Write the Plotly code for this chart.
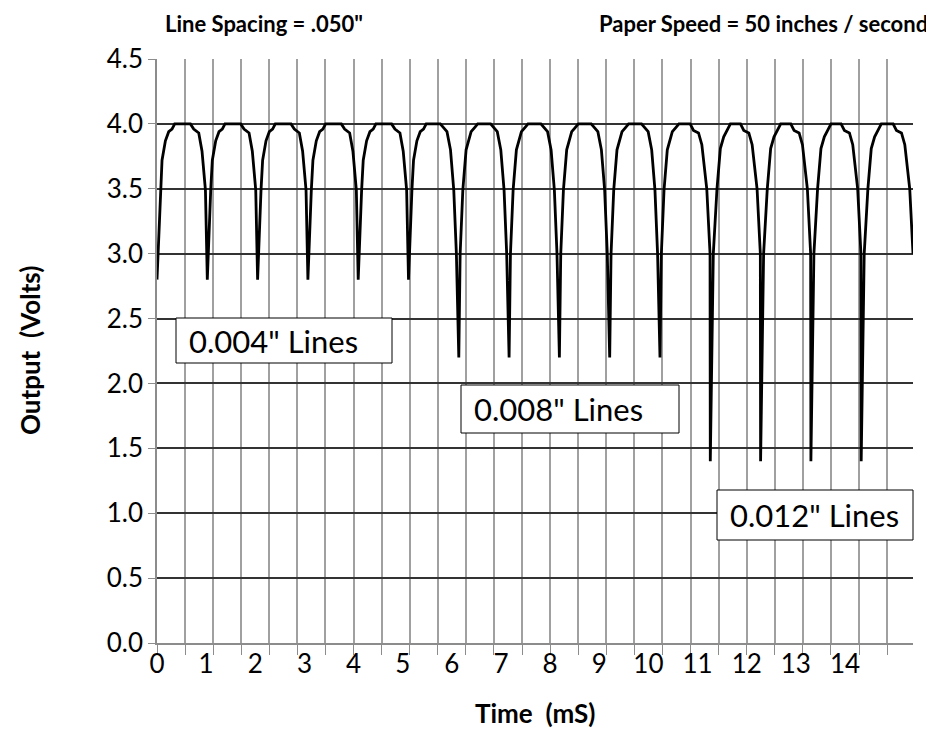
import plotly.graph_objects as go

# ---------------- data ----------------
# times (mS) of the dips and the voltage each dip reaches
dip_times = [0, 1, 2, 3, 4, 5, 6, 7, 8, 9, 10, 11, 12, 13, 14]
dip_volts = [2.8, 2.8, 2.8, 2.8, 2.8, 2.8,
             2.2, 2.2, 2.2, 2.2, 2.2,
             1.4, 1.4, 1.4, 1.4]
# the trace is cut at the right edge just before the next dip
end_dip_time = 15.035
end_dip_volts = 1.4

# rising edge after a dip: offset (mS) after dip, volts
rise_004_dt = [0.068, 0.10, 0.167, 0.233, 0.298, 0.352]
rise_004_v = [3.49, 3.72, 3.87, 3.94, 3.96, 4.0]
rise_008_dt = [0.027, 0.08, 0.145, 0.245, 0.31, 0.376]
rise_008_v = [3.0, 3.49, 3.8, 3.94, 3.97, 4.0]
rise_012_dt = [0.06, 0.133, 0.2, 0.267, 0.333, 0.4]
rise_012_v = [3.0, 3.5, 3.81, 3.9, 3.95, 4.0]

# falling edge before a dip: offset (mS) before dip, volts
fall_004_dt = [-0.336, -0.27, -0.17, -0.105, -0.037]
fall_004_v = [4.0, 3.96, 3.93, 3.79, 3.49]
fall_008_dt = [-0.368, -0.295, -0.235, -0.165, -0.1, -0.048]
fall_008_v = [4.0, 3.97, 3.94, 3.8, 3.49, 3.0]
fall_012_dt = [-0.4, -0.334, -0.234, -0.168, -0.07, -0.005]
fall_012_v = [4.0, 3.95, 3.93, 3.84, 3.5, 3.0]

# category labels of the time axis and where they sit (mS)
x_label_text = ["0", "1", "2", "3", "4", "5", "6", "7", "8", "9",
                "10", "11", "12", "13", "14"]
x_label_pos = [0.0, 0.977, 1.954, 2.931, 3.908, 4.885, 5.862, 6.839,
               7.816, 8.793, 9.77, 10.747, 11.724, 12.701, 13.678]

rise_profiles = {2.8: (rise_004_dt, rise_004_v),
                 2.2: (rise_008_dt, rise_008_v),
                 1.4: (rise_012_dt, rise_012_v)}
fall_profiles = {2.8: (fall_004_dt, fall_004_v),
                 2.2: (fall_008_dt, fall_008_v),
                 1.4: (fall_012_dt, fall_012_v)}

# ---------------- assemble the trace ----------------
t, v = [], []
n = len(dip_times)
for k in range(n):
    t.append(dip_times[k])
    v.append(dip_volts[k])
    rdt, rv = rise_profiles[dip_volts[k]]
    for a, b in zip(rdt, rv):
        t.append(dip_times[k] + a)
        v.append(b)
    if k + 1 < n:
        nt, nv = dip_times[k + 1], dip_volts[k + 1]
    else:
        nt, nv = end_dip_time, end_dip_volts
    fdt, fv = fall_profiles[nv]
    for a, b in zip(fdt, fv):
        t.append(nt + a)
        v.append(b)

FONT = "Lato"
W, H = 934, 751
OFF = 8  # page body margin
# plot area in reference-image pixels
PL, PR, PT, PB = 157, 913, 59, 643
ML = PL - OFF
MT = PT - OFF
PW, PH = PR - PL, PB - PT
MR = W - ML - PW
MB = H - MT - PH


def px(x):
    return (x - PL) / PW


def py(y):
    return (PB - y) / PH


fig = go.Figure()
fig.add_trace(go.Scatter(x=t, y=v, mode="lines",
                         line=dict(color="black", width=2.8),
                         hoverinfo="skip", showlegend=False))

fig.update_layout(
    width=W, height=H,
    margin=dict(l=ML, r=MR, t=MT, b=MB),
    paper_bgcolor="white", plot_bgcolor="white",
    font=dict(family=FONT, color="black"),
    xaxis=dict(
        range=[0, 15.03], tickmode="array",
        tickvals=x_label_pos, ticktext=x_label_text,
        showgrid=False, ticks="", zeroline=False,
        showline=True, linecolor="#8c8c8c", linewidth=1.5,
        tickfont=dict(size=26, family=FONT), ticklabelstandoff=-3,
        minor=dict(tick0=0, dtick=0.5583, showgrid=True,
                   gridcolor="#a0a0a0", gridwidth=1.5,
                   ticks="outside", ticklen=10,
                   tickcolor="#8c8c8c", tickwidth=1.4),
    ),
    yaxis=dict(
        range=[0, 4.5], tickmode="linear", tick0=0, dtick=0.5,
        tickformat=".1f", showgrid=True, gridcolor="#333333",
        gridwidth=1.5, ticks="outside", ticklen=7,
        tickcolor="#8c8c8c", tickwidth=1.4,
        showline=True, linecolor="#8c8c8c", linewidth=1.5,
        zeroline=True, zerolinecolor="#8c8c8c", zerolinewidth=1.5,
        tickfont=dict(size=26, family=FONT), ticklabelstandoff=0,
    ),
)

# label boxes (reference pixels)
boxes = [
    (176, 392, 318, 363, 187, "0.004\" Lines"),
    (461, 679, 385, 433, 472, "0.008\" Lines"),
    (717, 913, 490, 540, 728, "0.012\" Lines"),
]
for x0, x1, y0, y1, tx, txt in boxes:
    fig.add_shape(type="rect", xref="paper", yref="paper",
                  x0=px(x0), x1=px(x1), y0=py(y1), y1=py(y0),
                  line=dict(color="black", width=1), fillcolor="white",
                  layer="above")
    fig.add_annotation(xref="paper", yref="paper", x=px(tx),
                       y=py((y0 + y1) / 2), xanchor="left", yanchor="middle",
                       text=txt, showarrow=False,
                       font=dict(size=31, family=FONT, color="black"))

# headers
fig.add_annotation(xref="paper", yref="paper", x=px(264), y=py(24),
                   xanchor="center", yanchor="middle",
                   text="<b>Line Spacing = .050\"</b>", showarrow=False,
                   font=dict(size=22, family=FONT, color="black"))
fig.add_annotation(xref="paper", yref="paper", x=px(930), y=py(24),
                   xanchor="right", yanchor="middle",
                   text="<b>Paper Speed = 50 inches / second</b>",
                   showarrow=False,
                   font=dict(size=22, family=FONT, color="black"))

# axis titles
fig.add_annotation(xref="paper", yref="paper", x=px(535), y=py(713),
                   xanchor="center", yanchor="middle",
                   text="<b>Time\u00a0 (mS)</b>", showarrow=False,
                   font=dict(size=26, family=FONT, color="black"))
fig.add_annotation(xref="paper", yref="paper", x=px(30), y=py(351),
                   xanchor="center", yanchor="middle", textangle=-90,
                   text="<b>Output\u00a0 (Volts)</b>", showarrow=False,
                   font=dict(size=26, family=FONT, color="black"))

fig.write_html("out.html")
